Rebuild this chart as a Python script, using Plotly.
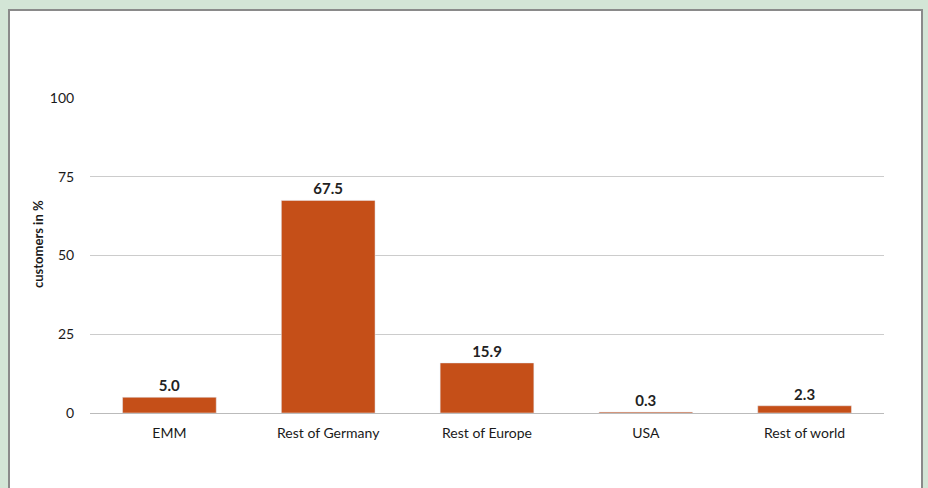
import plotly.graph_objects as go

categories = ["EMM", "Rest of Germany", "Rest of Europe", "USA", "Rest of world"]
values = [5.0, 67.5, 15.9, 0.3, 2.3]
value_labels = ["5.0", "67.5", "15.9", "0.3", "2.3"]
y_ticks = [0, 25, 50, 75, 100]
y_title = "customers in %"

BG = "#d3e5d6"
W, H = 928, 488
# target plot-area edges in pixels
PX0, PX1, PY0, PY1 = 90, 884, 98, 413
L, T = PX0, PY0
R, B = W - PX1, H - PY1
pw, ph = PX1 - PX0, PY1 - PY0

def px_x(x):
    return (x - PX0) / pw

def px_y(y):
    return (PY1 - y) / ph

fig = go.Figure(
    go.Bar(
        x=categories,
        y=values,
        text=value_labels,
        textposition="outside",
        marker_color="#C54F18",
        textfont=dict(family="Lato", size=15, color="#222222", weight="bold"),
        cliponaxis=False,
    )
)

fig.add_shape(
    type="rect", xref="paper", yref="paper",
    x0=px_x(9), x1=px_x(922), y0=px_y(10), y1=px_y(520),
    line=dict(color="#8a8a8a", width=2), fillcolor="white", layer="below",
)

fig.add_annotation(
    text=y_title, xref="paper", yref="paper",
    x=px_x(38), y=px_y(244), xanchor="center", yanchor="middle",
    textangle=-90, showarrow=False,
    font=dict(family="Lato", size=13, color="#1a1a1a", weight="bold"),
)

fig.update_layout(
    width=W, height=H,
    margin=dict(l=L, r=R, t=T, b=B),
    paper_bgcolor=BG,
    plot_bgcolor="white",
    bargap=0.41,
    showlegend=False,
    font=dict(family="Lato", size=14, color="#1a1a1a"),
)
fig.update_xaxes(
    showgrid=False, showline=False,
    ticks="outside", ticklen=7, tickcolor="rgba(0,0,0,0)",
    tickfont=dict(family="Lato", size=14, color="#1a1a1a"),
)
fig.update_yaxes(
    range=[0, 100], tickvals=y_ticks,
    showgrid=True, gridcolor="#cccccc", gridwidth=1,
    zeroline=True, zerolinecolor="#bbbbbb", zerolinewidth=1,
    ticks="outside", ticklen=12, tickcolor="rgba(0,0,0,0)",
    tickfont=dict(family="Lato", size=14, color="#1a1a1a"),
)

fig.write_html(
    "out.html",
    config={"displayModeBar": False},
    post_script="document.body.style.margin='0';document.body.style.background='%s';" % BG,
)
